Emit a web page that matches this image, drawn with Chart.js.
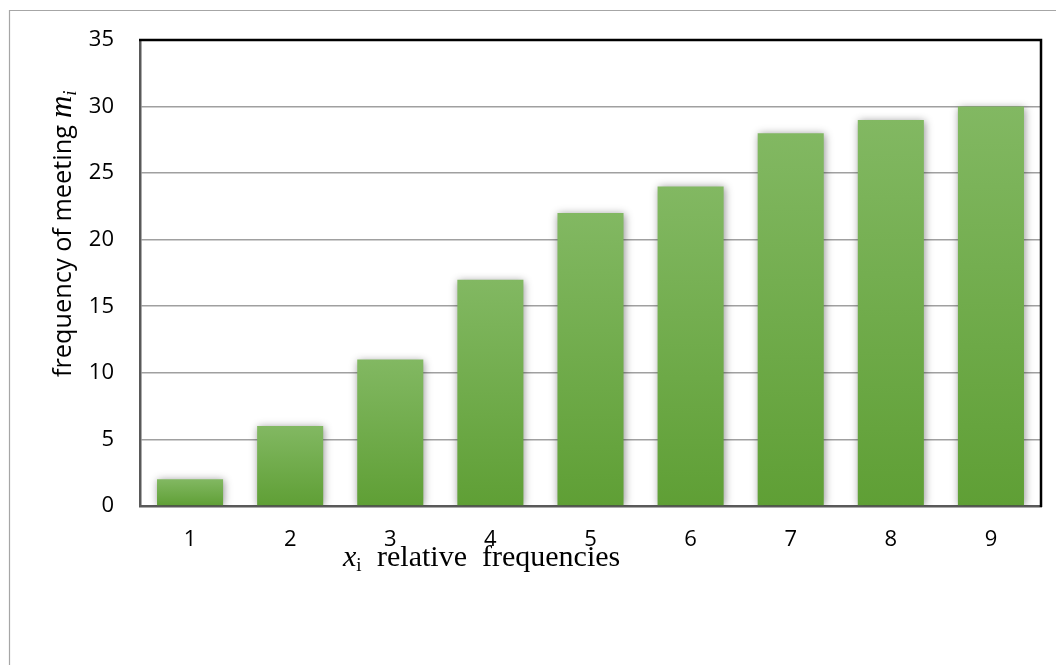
<!DOCTYPE html>
<html>
<head>
<meta charset="utf-8">
<script src="https://cdn.jsdelivr.net/npm/chart.js@4/dist/chart.umd.min.js"></script>
<style>
  html, body { margin: 0; padding: 0; background: #ffffff; }
  #wrap { position: relative; width: 1056px; height: 665px; }
</style>
</head>
<body>
<div id="wrap"><canvas id="c" width="1056" height="665"></canvas></div>
<script>
// Relative frequency classes and how often each one was met
const categories = ['1', '2', '3', '4', '5', '6', '7', '8', '9'];
const meetings = [2, 6, 11, 17, 22, 24, 28, 29, 30];
const yTicks = [0, 5, 10, 15, 20, 25, 30, 35];

const SANS = '"Open Sans", "Noto Sans", sans-serif';
const SERIF = '"Liberation Serif", "DejaVu Serif", serif';

// Vertical green gradient spanning each bar from its top to the baseline
function barGradient(ctx) {
  const chart = ctx.chart;
  if (!chart.chartArea || ctx.parsed == null) return '#6aab44';
  const y = chart.scales.y;
  const top = y.getPixelForValue(ctx.parsed.y);
  const bottom = y.getPixelForValue(0);
  const g = chart.ctx.createLinearGradient(0, top, 0, bottom);
  g.addColorStop(0, '#82b862');
  g.addColorStop(1, '#5f9f35');
  return g;
}

// Soft shadow under the bars, frame lines and the two mixed-font axis titles
const decor = {
  id: 'decor',
  beforeDraw(chart) {
    const c = chart.ctx;
    c.save();
    c.strokeStyle = '#a6a6a6';
    c.lineWidth = 1.2;
    c.beginPath();
    c.moveTo(9.5, chart.height);
    c.lineTo(9.5, 10.5);
    c.lineTo(chart.width, 10.5);
    c.stroke();
    c.restore();
  },
  beforeDatasetsDraw(chart) {
    const c = chart.ctx;
    c.save();
    c.shadowColor = 'rgba(0,0,0,0.42)';
    c.shadowBlur = 8;
    c.shadowOffsetX = 1;
    c.shadowOffsetY = 1;
  },
  afterDatasetsDraw(chart) {
    chart.ctx.restore();
  },
  afterDraw(chart) {
    const c = chart.ctx;
    const a = chart.chartArea;
    c.save();
    // top and right edges of the plot frame
    c.strokeStyle = '#000000';
    c.lineWidth = 2.5;
    c.beginPath();
    c.moveTo(a.left - 1, a.top);
    c.lineTo(a.right, a.top);
    c.lineTo(a.right, a.bottom + 1);
    c.stroke();

    // y axis title: "frequency of meeting m_i", rotated
    c.save();
    c.translate(71, 0);
    c.rotate(-Math.PI / 2);
    c.fillStyle = '#000000';
    c.textBaseline = 'alphabetic';
    const part1 = 'frequency of meeting';
    c.font = '25.3px ' + SANS;
    let x = -377;
    c.fillText(part1, x, 0);
    x += c.measureText(part1).width + 7;
    c.font = 'italic 31px ' + SERIF;
    c.fillText('m', x, 0);
    x += c.measureText('m').width;
    c.font = 'italic 19px ' + SERIF;
    c.fillText('i', x, 5);
    c.restore();

    // x axis title: "x_i  relative  frequencies"
    c.fillStyle = '#000000';
    c.textBaseline = 'alphabetic';
    const base = 566;
    c.font = 'italic 30px ' + SERIF;
    c.fillText('x', 343, base);
    let px = 343 + c.measureText('x').width;
    c.font = '19px ' + SERIF;
    c.fillText('i', px, base + 5);
    c.font = '30px ' + SERIF;
    c.fillText('relative', 377, base);
    c.fillText('frequencies', 482, base);
    c.restore();
  }
};

new Chart(document.getElementById('c'), {
  type: 'bar',
  data: {
    labels: categories,
    datasets: [{
      data: meetings,
      backgroundColor: barGradient,
      borderWidth: 0,
      categoryPercentage: 1.0,
      barPercentage: 0.66
    }]
  },
  options: {
    responsive: false,
    animation: false,
    devicePixelRatio: 1,
    layout: { padding: { top: 40, right: 15, left: 0, bottom: 0 } },
    plugins: { legend: { display: false }, tooltip: { enabled: false } },
    scales: {
      x: {
        grid: { display: false, drawTicks: false },
        border: { display: true, color: '#595959', width: 2.5 },
        ticks: {
          color: '#000000',
          font: { family: SANS, size: 22 },
          padding: 21,
          maxRotation: 0
        },
        afterFit(scale) { scale.height = 159; }
      },
      y: {
        min: 0,
        max: 35,
        afterBuildTicks(scale) { scale.ticks = yTicks.map(v => ({ value: v })); },
        grid: { color: '#a0a0a0', lineWidth: 1.6, drawTicks: false },
        border: { display: true, color: '#595959', width: 2.5 },
        ticks: {
          color: '#000000',
          font: { family: SANS, size: 22 },
          padding: 26
        },
        afterFit(scale) { scale.width = 140; }
      }
    }
  },
  plugins: [decor]
});
</script>
</body>
</html>
